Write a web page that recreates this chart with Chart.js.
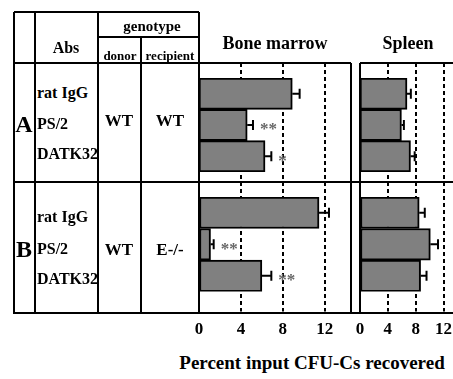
<!DOCTYPE html>
<html>
<head>
<meta charset="utf-8">
<script src="https://cdn.jsdelivr.net/npm/chart.js@4.4.0/dist/chart.umd.min.js"></script>
<style>
html, body { margin: 0; padding: 0; background: #fff; overflow: hidden; }
#fig { position: relative; width: 453px; height: 379px; overflow: hidden;
       font-family: "Liberation Serif", "DejaVu Serif", serif; font-weight: bold; color: #000; }
.ln { position: absolute; background: #000; }
.tx { position: absolute; white-space: nowrap; line-height: 1; transform: translate(-50%, -50%); }
.tx.left { transform: translate(0, -50%); }
canvas { position: absolute; }
</style>
</head>
<body>
<div id="fig">
  <canvas id="marrowA" width="152" height="119" style="left:199px;top:63px"></canvas>
  <canvas id="marrowB" width="162" height="160" style="left:189px;top:182px"></canvas>
  <canvas id="spleenA" width="101" height="119" style="left:360px;top:63px"></canvas>
  <canvas id="spleenB" width="111" height="160" style="left:350px;top:182px"></canvas>
</div>
<script>
"use strict";

// data
const antibodies = ['rat IgG', 'PS/2', 'DATK32'];
const tickValues = [0, 4, 8, 12];
const gridValues = [4, 8, 12];

const marrowA = [8.9, 4.6, 6.3];
const marrowAErr = [0.7, 0.55, 0.6];
const marrowAStars = ['', '**', '*'];

const marrowB = [11.45, 1.1, 6.0];
const marrowBErr = [0.95, 0.3, 0.9];
const marrowBStars = ['', '**', '**'];

const spleenA = [6.75, 5.95, 7.25];
const spleenAErr = [0.55, 0.35, 0.6];

const spleenB = [8.5, 10.1, 8.7];
const spleenBErr = [0.8, 1.1, 0.85];

const noStars = ['', '', ''];

const serif = '"Liberation Serif", "DejaVu Serif", serif';
let fig = document.getElementById('fig');

// table lines and panel frames
function line(x1, y1, x2, y2) {
    let d = document.createElement('div');
    d.className = 'ln';
    if (y1 === y2) {
        d.style.left = x1 + 'px'; d.style.top = (y1 - 1) + 'px';
        d.style.width = (x2 - x1) + 'px'; d.style.height = '2px';
    } else {
        d.style.left = (x1 - 1) + 'px'; d.style.top = y1 + 'px';
        d.style.width = '2px'; d.style.height = (y2 - y1) + 'px';
    }
    fig.appendChild(d);
}

function text(str, x, y, size, left) {
    let d = document.createElement('div');
    d.className = left ? 'tx left' : 'tx';
    d.textContent = str;
    d.style.left = x + 'px';
    d.style.top = y + 'px';
    d.style.fontSize = size + 'px';
    fig.appendChild(d);
}

// error bars and significance marks
const errorBars = {
    id: 'errorBars',
    afterDatasetsDraw(chart) {
        let ctx = chart.ctx;
        let xs = chart.scales.x;
        let ds = chart.data.datasets[0];
        let meta = chart.getDatasetMeta(0);
        ctx.save();
        meta.data.forEach((bar, i) => {
            let end = xs.getPixelForValue(ds.data[i] + ds.errors[i]);
            let y = bar.y;
            ctx.strokeStyle = '#000';
            ctx.lineWidth = 2;
            ctx.beginPath();
            ctx.moveTo(bar.x, y);
            ctx.lineTo(end, y);
            ctx.moveTo(end, y - 5);
            ctx.lineTo(end, y + 5);
            ctx.stroke();
            if (ds.stars[i]) {
                ctx.fillStyle = '#666';
                ctx.font = 'bold 17px ' + serif;
                ctx.textBaseline = 'middle';
                ctx.textAlign = 'left';
                ctx.fillText(ds.stars[i], end + 7, y + 5);
            }
        });
        ctx.restore();
    }
};

// dashed reference lines spanning the whole panel cell
const dashedGrid = {
    id: 'dashedGrid',
    beforeDatasetsDraw(chart, args, opts) {
        let ctx = chart.ctx;
        let xs = chart.scales.x;
        let bottom = chart.chartArea.bottom + opts.extend;
        ctx.save();
        ctx.strokeStyle = '#000';
        ctx.lineWidth = 2;
        ctx.setLineDash([4, 3]);
        gridValues.forEach(v => {
            let x = Math.round(xs.getPixelForValue(v));
            ctx.beginPath();
            ctx.moveTo(x, 0);
            ctx.lineTo(x, bottom);
            ctx.stroke();
        });
        ctx.restore();
    }
};

function makeChart(id, values, errors, stars, withTicks) {
    return new Chart(document.getElementById(id), {
        type: 'bar',
        data: {
            labels: antibodies,
            datasets: [{
                data: values,
                errors: errors,
                stars: stars,
                backgroundColor: '#808080',
                borderColor: '#000',
                borderWidth: 2,
                borderSkipped: false,
                barPercentage: 1,
                categoryPercentage: 1
            }]
        },
        options: {
            indexAxis: 'y',
            responsive: false,
            animation: false,
            devicePixelRatio: 1,
            // the lower charts are 10px wider on the left so the "0" label is not cut
            layout: { padding: { top: 15, bottom: withTicks ? 0 : 10, left: withTicks ? 10 : 0, right: 0 } },
            plugins: {
                legend: { display: false },
                tooltip: { enabled: false },
                dashedGrid: { extend: withTicks ? 20 : 10 }
            },
            scales: {
                x: {
                    display: withTicks,
                    min: 0,
                    max: 14.5,
                    afterBuildTicks: scale => { scale.ticks = tickValues.map(v => ({ value: v })); },
                    afterFit: scale => { scale.paddingLeft = 0; scale.paddingRight = 0; },
                    grid: { display: true, color: 'transparent', drawOnChartArea: false, drawTicks: true, tickLength: 26 },
                    border: { display: false },
                    ticks: {
                        padding: 2,
                        color: '#000',
                        maxRotation: 0,
                        autoSkip: false,
                        font: { family: serif, size: 17, weight: 'bold' }
                    }
                },
                y: { display: false }
            }
        },
        plugins: [dashedGrid, errorBars]
    });
}

makeChart('marrowA', marrowA, marrowAErr, marrowAStars, false);
makeChart('marrowB', marrowB, marrowBErr, marrowBStars, true);
makeChart('spleenA', spleenA, spleenAErr, noStars, false);
makeChart('spleenB', spleenB, spleenBErr, noStars, true);

// grid of the table and frames of the panels
line(14, 12, 199, 12);
line(98, 37, 199, 37);
line(14, 63, 351, 63);
line(360, 63, 453, 63);
line(14, 182, 453, 182);
line(14, 313, 453, 313);
line(14, 12, 14, 314);
line(35, 12, 35, 314);
line(98, 12, 98, 314);
line(141, 37, 141, 314);
line(199, 12, 199, 314);
line(351, 63, 351, 314);
line(360, 63, 360, 314);

// table text
text('genotype', 152, 26, 15);
text('Abs', 66, 48, 16);
text('donor', 120, 55, 13);
text('recipient', 170, 55, 13);
text('A', 24, 124, 24);
text('B', 24, 249, 24);
[93, 124, 154].forEach((y, i) => text(antibodies[i], 37, y, 16, true));
[217, 249, 279].forEach((y, i) => text(antibodies[i], 37, y, 16, true));
text('WT', 119, 120, 17);
text('WT', 170, 120, 17);
text('WT', 119, 249, 17);
text('E-/-', 170, 249, 17);

// panel titles and axis title
text('Bone marrow', 275, 43, 18);
text('Spleen', 408, 43, 18);
text('Percent input CFU-Cs recovered', 312, 362, 19);
</script>
</body>
</html>
